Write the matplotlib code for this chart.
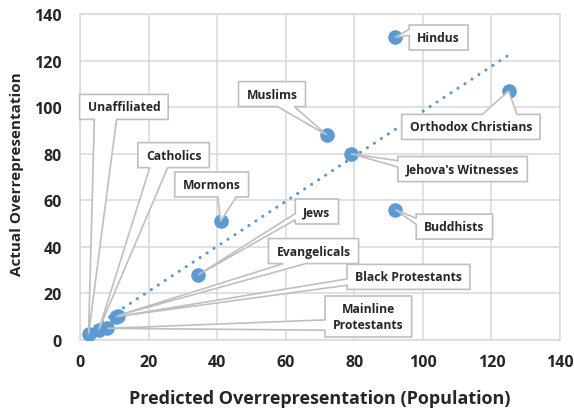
import matplotlib
matplotlib.use('Agg')
import matplotlib.pyplot as plt
import numpy as np
from matplotlib.patches import Polygon

# ---- data ----
groups = ["Unaffiliated", "Catholics", "Mainline Protestants", "Evangelicals",
          "Black Protestants", "Jews", "Mormons", "Muslims", "Jehova's Witnesses",
          "Buddhists", "Hindus", "Orthodox Christians"]
predicted = [2.5, 5.5, 8, 11, 10.5, 34.5, 41, 72, 79, 92, 92, 125]
actual = [2.5, 4.5, 5, 10.5, 10, 28, 51, 88, 80, 56, 130, 107]

label_text = ["Unaffiliated", "Catholics", "Mainline\nProtestants", "Evangelicals",
              "Black Protestants", "Jews", "Mormons", "Muslims", "Jehova's Witnesses",
              "Buddhists", "Hindus", "Orthodox Christians"]
# label box centres (data coords)
label_x = [12.8, 27.3, 84.1, 68.1, 95.8, 69.1, 38.4, 56.0, 111.6, 109.2, 104.6, 114.0]
label_y = [100.1, 79.4, 10.1, 38.2, 27.1, 55.2, 66.8, 105.6, 73.4, 48.7, 129.9, 91.5]

xticks = [0, 20, 40, 60, 80, 100, 120, 140]
yticks = [0, 20, 40, 60, 80, 100, 120, 140]

FONT = "Open Sans"
BLUE = "#5B9BD5"
GRID = "#D9D9D9"
EDGE = "#BFBFBF"
TXT = "#262626"

fig = plt.figure(figsize=(5.74, 4.10), dpi=100)
ax = fig.add_axes([80/574, 69/410, 480/574, 326/410])
ax.set_xlim(0, 140)
ax.set_ylim(0, 140)
ax.set_xticks(xticks)
ax.set_yticks(yticks)
ax.grid(True, color=GRID, lw=1.1, zorder=0)
ax.set_axisbelow(True)
for s in ax.spines.values():
    s.set_color(GRID)
    s.set_linewidth(1.1)
ax.tick_params(length=0)
ax.tick_params(axis='x', pad=10)
ax.tick_params(axis='y', pad=13)
for lab in ax.get_xticklabels() + ax.get_yticklabels():
    lab.set_fontfamily(FONT)
    lab.set_fontweight('bold')
    lab.set_fontsize(11.5)
    lab.set_color(TXT)

# trendline (linear fit of the points)
px = np.array(predicted)
py = np.array(actual)
m, b = np.polyfit(px, py, 1)
xs = np.array([px.min(), px.max()])
ax.plot(xs, m*xs + b, color=BLUE, lw=2.3, linestyle=(0, (0.01, 2.6)),
        dash_capstyle='round', zorder=2)

ax.scatter(predicted, actual, s=110, color=BLUE, zorder=3, linewidths=0)

fig.text(319.5/574, 1 - 399/410, "Predicted Overrepresentation (Population)",
         ha='center', va='center', fontfamily=FONT, fontweight='bold',
         fontsize=13, color=TXT)
fig.text(17.5/574, 1 - 174/410, "Actual Overrepresentation", rotation=90,
         ha='center', va='center', fontfamily=FONT, fontweight='bold',
         fontsize=11, color=TXT)

fig.canvas.draw()
renderer = fig.canvas.get_renderer()
inv = ax.transData.inverted()


def callout(cx, cy, text, tx, ty):
    t = ax.text(cx, cy, text, ha='center', va='center', fontsize=8.7,
                fontfamily=FONT, fontweight='bold', color=TXT, zorder=7,
                linespacing=1.25)
    bb = t.get_window_extent(renderer)
    nlines = text.count('\n') + 1
    w = bb.width + 16
    h = 9 + 16*nlines
    Cx, Cy = ax.transData.transform((cx, cy))
    Tx, Ty = ax.transData.transform((tx, ty))
    dx = Tx - Cx
    dy = Cy - Ty  # positive when tip is below (y-down frame)
    tip = (w/2 + dx, h/2 + dy)
    xg1, xg2 = (7, 10) if dx > 0 else (2, 5)
    yg1, yg2 = (7, 10) if dy > 0 else (2, 5)
    x1, x2 = w*xg1/12, w*xg2/12
    y1, y2 = h*yg1/12, h*yg2/12
    dq = dx*h/w
    vertical = abs(dy) - abs(dq) > 0
    pts = [(0, 0)]
    if vertical and dy < 0:
        pts += [(x1, 0), tip, (x2, 0)]
    pts += [(w, 0)]
    if (not vertical) and dx > 0:
        pts += [(w, y1), tip, (w, y2)]
    pts += [(w, h)]
    if vertical and dy > 0:
        pts += [(x2, h), tip, (x1, h)]
    pts += [(0, h)]
    if (not vertical) and dx <= 0:
        pts += [(0, y2), tip, (0, y1)]
    disp = [(Cx - w/2 + x, Cy + h/2 - y) for x, y in pts]
    data = inv.transform(disp)
    poly = Polygon(data, closed=True, facecolor='white', edgecolor=EDGE,
                   lw=1.2, zorder=6, joinstyle='miter', clip_on=False)
    ax.add_patch(poly)


for i in range(len(groups)):
    callout(label_x[i], label_y[i], label_text[i], predicted[i], actual[i])

fig.savefig("out.png", dpi=100)
